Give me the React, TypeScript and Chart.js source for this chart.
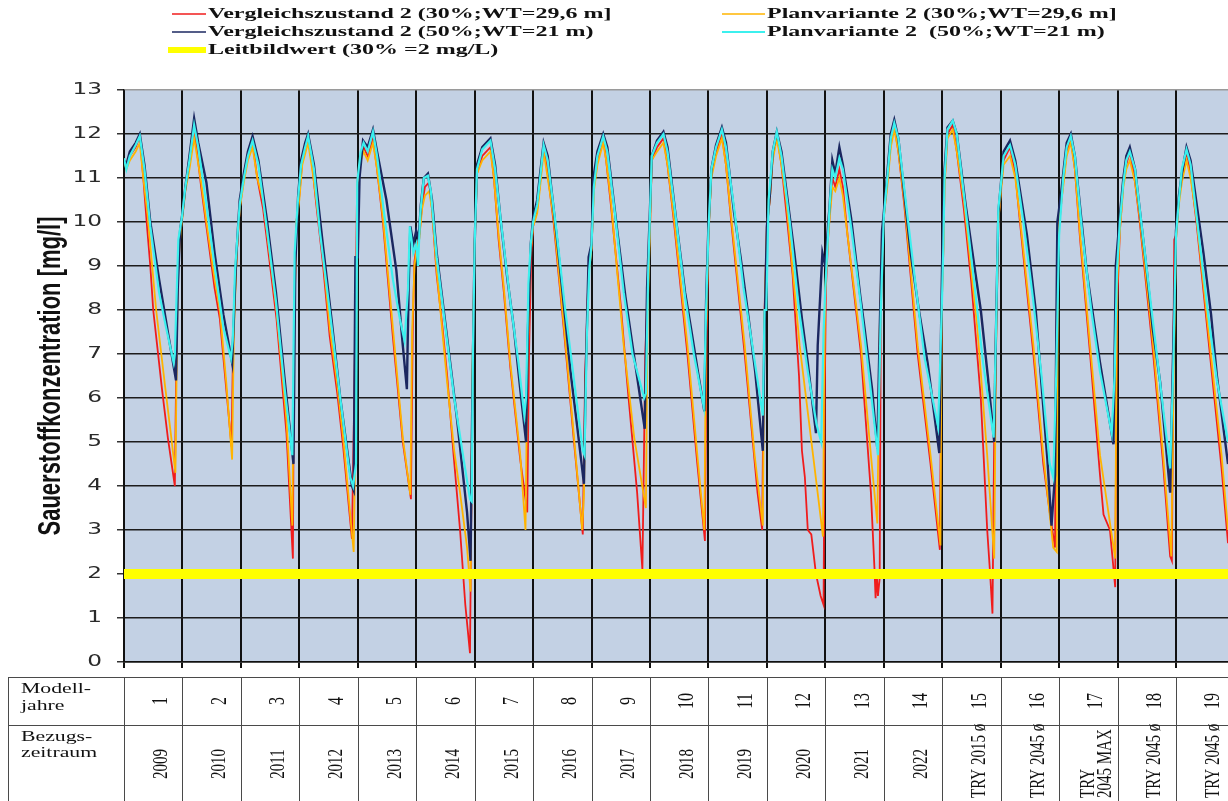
import React, { useEffect, useRef } from "react";
import { Chart, registerables } from "chart.js";

Chart.register(...registerables);

type Pt = [number, number];

// ---- data (x = model year position, y = mg/l) ----
const vergleich30: Pt[] = [
  [0, 11.4], [0.04, 11.25], [0.1, 11.5], [0.2, 11.7], [0.27, 11.95], [0.33, 11.0], [0.4, 9.8], [0.45, 9.0], [0.5, 8.0], [0.65, 6.2], [0.75, 5.1], [0.87, 4.0], [0.91, 8.5], [0.96, 9.8], [1.0, 10.2],
  [1.05, 10.8], [1.12, 11.3], [1.2, 12.1], [1.25, 11.6], [1.32, 10.8], [1.41, 9.9], [1.55, 8.5], [1.64, 7.8], [1.75, 6.2], [1.84, 4.9], [1.87, 7.5], [1.93, 9.3], [1.98, 10.3],
  [2.05, 11.0], [2.12, 11.5], [2.2, 11.8], [2.28, 11.0], [2.38, 10.3], [2.5, 9.0], [2.61, 7.8], [2.78, 5.2], [2.89, 2.35], [2.91, 7.5], [2.95, 10.0], [3.0, 10.6],
  [3.05, 11.4], [3.15, 11.9], [3.22, 11.3], [3.29, 10.4], [3.4, 9.1], [3.52, 7.4], [3.65, 6.1], [3.75, 4.9], [3.9, 2.8], [3.94, 6.0], [3.99, 10.9],
  [4.05, 11.5], [4.1, 11.7], [4.17, 11.5], [4.26, 11.9], [4.33, 11.2], [4.43, 10.0], [4.6, 7.4], [4.77, 5.0], [4.91, 3.7], [4.94, 7.5], [4.97, 9.1], [5.0, 9.4],
  [5.05, 9.6], [5.1, 10.4], [5.15, 10.8], [5.22, 10.9], [5.27, 10.3], [5.35, 8.8], [5.45, 7.6], [5.53, 6.5], [5.64, 4.7], [5.75, 3.0], [5.84, 1.3], [5.92, 0.2], [5.96, 6.0], [6.0, 9.5],
  [6.04, 11.1], [6.13, 11.5], [6.27, 11.7], [6.33, 11.0], [6.41, 9.6], [6.5, 8.4], [6.61, 6.7], [6.78, 4.6], [6.9, 3.4], [6.93, 7.0], [6.97, 9.3], [7.0, 9.9],
  [7.07, 10.3], [7.12, 10.9], [7.18, 11.7], [7.25, 11.1], [7.35, 10.0], [7.53, 7.5], [7.7, 5.0], [7.85, 2.9], [7.89, 6.5], [7.95, 8.9], [8.0, 9.4],
  [8.04, 10.8], [8.1, 11.4], [8.2, 11.9], [8.25, 11.4], [8.33, 10.4], [8.5, 8.1], [8.61, 6.35], [8.78, 3.85], [8.87, 2.1], [8.92, 7.0], [8.97, 9.0], [9.0, 9.8],
  [9.03, 11.4], [9.12, 11.7], [9.23, 11.9], [9.3, 11.3], [9.41, 10.0], [9.64, 7.0], [9.81, 4.5], [9.94, 2.75], [9.97, 7.5], [10.0, 9.7],
  [10.05, 11.1], [10.13, 11.6], [10.23, 12.0], [10.3, 11.3], [10.39, 10.0], [10.62, 7.0], [10.84, 3.85], [10.92, 3.0], [10.95, 7.5], [11.0, 9.9],
  [11.05, 10.5], [11.1, 11.5], [11.17, 12.0], [11.25, 11.3], [11.35, 10.0], [11.44, 8.8], [11.55, 6.5], [11.6, 4.8], [11.65, 4.2], [11.7, 3.0], [11.76, 2.9], [11.84, 2.0], [11.92, 1.5], [11.97, 1.3], [11.99, 6.0], [12.01, 8.5],
  [12.05, 9.7], [12.12, 11.0], [12.17, 10.8], [12.24, 11.2], [12.3, 10.8], [12.38, 9.7], [12.61, 7.0], [12.78, 3.85], [12.84, 2.15], [12.86, 1.45], [12.88, 2.0], [12.9, 1.5], [12.93, 1.9], [12.95, 8.0], [13.0, 10.1],
  [13.06, 10.9], [13.12, 11.8], [13.18, 12.2], [13.25, 11.6], [13.35, 10.4], [13.58, 7.0], [13.8, 4.5], [13.96, 2.55], [13.99, 8.0], [14.02, 9.4],
  [14.04, 10.9], [14.09, 12.0], [14.18, 12.2], [14.25, 11.6], [14.37, 10.3], [14.5, 8.6], [14.66, 6.0], [14.77, 3.0], [14.82, 2.0], [14.86, 1.1], [14.9, 6.5], [14.96, 10.0],
  [15.0, 10.7], [15.05, 11.4], [15.16, 11.7], [15.25, 11.1], [15.33, 10.0], [15.56, 7.0], [15.73, 4.5], [15.85, 3.3], [15.93, 2.6], [15.96, 8.0], [16.0, 9.9],
  [16.07, 10.9], [16.13, 11.6], [16.2, 11.9], [16.27, 11.2], [16.36, 9.6], [16.53, 7.0], [16.7, 4.25], [16.76, 3.35], [16.87, 3.0], [16.96, 1.7], [16.99, 8.0], [17.04, 9.8],
  [17.1, 10.9], [17.15, 11.3], [17.21, 11.6], [17.3, 10.9], [17.38, 10.0], [17.61, 7.0], [17.78, 4.5], [17.9, 2.4], [17.93, 2.3], [17.97, 9.6], [18.0, 9.7],
  [18.05, 10.5], [18.1, 11.0], [18.18, 11.6], [18.25, 11.1], [18.35, 10.0], [18.58, 7.0], [18.78, 4.4], [18.89, 2.7],
];

const vergleich50: Pt[] = [
  [0, 11.4], [0.04, 11.3], [0.1, 11.6], [0.2, 11.8], [0.27, 12.0], [0.35, 11.3], [0.45, 10.0], [0.6, 8.7], [0.75, 7.5], [0.89, 6.4], [0.92, 8.5], [0.96, 9.8], [1.0, 10.2],
  [1.05, 10.8], [1.12, 11.5], [1.2, 12.35], [1.27, 11.8], [1.41, 10.9], [1.55, 9.3], [1.7, 7.9], [1.85, 6.8], [1.88, 7.8], [1.92, 9.2], [1.98, 10.5],
  [2.05, 11.1], [2.12, 11.6], [2.2, 11.95], [2.3, 11.4], [2.44, 10.1], [2.6, 8.4], [2.75, 6.4], [2.9, 4.5], [2.93, 9.0], [2.98, 10.6],
  [3.03, 11.4], [3.1, 11.8], [3.15, 12.0], [3.25, 11.3], [3.41, 9.4], [3.55, 7.8], [3.7, 6.0], [3.9, 4.0], [3.93, 3.9], [3.96, 9.2], [4.0, 9.2],
  [4.03, 11.0], [4.09, 11.85], [4.17, 11.7], [4.26, 12.1], [4.33, 11.6], [4.49, 10.5], [4.66, 8.9], [4.77, 7.2], [4.84, 6.2], [4.87, 8.5], [4.9, 9.9], [4.95, 9.5], [5.0, 9.8],
  [5.04, 9.6], [5.08, 10.4], [5.13, 11.0], [5.2, 11.1], [5.27, 10.5], [5.35, 9.3], [5.47, 8.0], [5.6, 6.6], [5.7, 5.5], [5.87, 3.4], [5.93, 2.3], [5.96, 6.0], [6.0, 9.5],
  [6.04, 11.3], [6.13, 11.7], [6.27, 11.9], [6.35, 11.3], [6.44, 10.1], [6.56, 8.7], [6.67, 7.6], [6.78, 6.2], [6.88, 5.0], [6.91, 7.5], [6.96, 9.5], [7.0, 10.1],
  [7.07, 10.5], [7.12, 11.1], [7.18, 11.8], [7.25, 11.5], [7.41, 9.6], [7.55, 7.8], [7.64, 6.6], [7.75, 5.4], [7.87, 4.05], [7.9, 6.5], [7.95, 9.2], [8.0, 9.5],
  [8.03, 11.0], [8.1, 11.6], [8.2, 12.0], [8.27, 11.7], [8.44, 9.8], [8.58, 8.3], [8.7, 7.2], [8.8, 6.3], [8.91, 5.3], [8.95, 8.5], [9.0, 10.3],
  [9.03, 11.5], [9.12, 11.85], [9.23, 12.05], [9.3, 11.7], [9.47, 9.8], [9.6, 8.4], [9.7, 7.6], [9.82, 6.6], [9.93, 5.7], [9.96, 8.2], [10.0, 9.9],
  [10.05, 11.2], [10.13, 11.75], [10.23, 12.15], [10.3, 11.8], [10.44, 10.2], [10.55, 9.2], [10.67, 8.0], [10.8, 6.6], [10.93, 4.8], [10.96, 7.5], [11.0, 9.9],
  [11.05, 10.6], [11.1, 11.6], [11.17, 12.05], [11.25, 11.6], [11.47, 9.3], [11.6, 7.8], [11.7, 6.8], [11.84, 5.2], [11.87, 7.2], [11.95, 9.3], [12.0, 9.0], [12.05, 10.0],
  [12.07, 10.3], [12.12, 11.4], [12.17, 11.1], [12.24, 11.7], [12.3, 11.3], [12.44, 10.1], [12.6, 8.3], [12.67, 7.6], [12.8, 6.2], [12.89, 4.85], [12.93, 7.5], [12.97, 9.8], [13.0, 10.2],
  [13.06, 11.1], [13.12, 12.0], [13.18, 12.32], [13.25, 11.9], [13.46, 9.3], [13.6, 8.0], [13.75, 6.8], [13.95, 4.75], [13.98, 7.5], [14.0, 9.2],
  [14.03, 11.0], [14.09, 12.15], [14.18, 12.3], [14.25, 12.0], [14.4, 10.4], [14.55, 9.0], [14.66, 8.0], [14.78, 6.5], [14.89, 5.0], [14.92, 7.5], [14.96, 10.2], [15.0, 10.8],
  [15.05, 11.6], [15.16, 11.85], [15.25, 11.4], [15.45, 9.7], [15.6, 8.0], [15.67, 6.8], [15.8, 4.6], [15.87, 3.1], [15.93, 4.25], [15.97, 10.0],
  [16.03, 10.6], [16.07, 11.1], [16.13, 11.8], [16.2, 12.0], [16.27, 11.5], [16.47, 8.9], [16.6, 7.7], [16.7, 6.8], [16.93, 4.95], [16.97, 9.0], [17.0, 9.5],
  [17.05, 10.3], [17.1, 11.0], [17.15, 11.5], [17.21, 11.7], [17.3, 11.2], [17.5, 8.9], [17.6, 7.6], [17.73, 6.35], [17.9, 3.85], [17.95, 7.0], [18.0, 9.8],
  [18.05, 10.6], [18.1, 11.1], [18.18, 11.7], [18.25, 11.4], [18.47, 9.3], [18.6, 7.9], [18.7, 6.5], [18.89, 4.5],
];

const plan30: Pt[] = [
  [0, 11.4], [0.04, 11.2], [0.1, 11.4], [0.2, 11.6], [0.27, 11.8], [0.33, 11.0], [0.4, 10.2], [0.55, 8.0], [0.7, 6.3], [0.8, 5.2], [0.88, 4.3], [0.92, 8.8], [0.97, 9.8], [1.0, 10.1],
  [1.05, 10.7], [1.12, 11.2], [1.2, 11.9], [1.25, 11.5], [1.32, 10.9], [1.41, 10.0], [1.55, 8.7], [1.64, 8.0], [1.75, 6.35], [1.85, 4.6], [1.88, 7.5], [1.93, 9.3], [1.98, 10.3],
  [2.05, 10.9], [2.12, 11.4], [2.2, 11.7], [2.28, 11.0], [2.38, 10.5], [2.5, 9.2], [2.61, 8.0], [2.78, 5.5], [2.88, 3.1], [2.91, 7.5], [2.95, 10.0], [3.0, 10.5],
  [3.05, 11.3], [3.15, 11.8], [3.22, 11.2], [3.29, 10.5], [3.4, 9.3], [3.52, 7.6], [3.65, 6.3], [3.75, 5.1], [3.93, 2.5], [3.97, 6.0], [3.99, 10.8],
  [4.05, 11.4], [4.1, 11.6], [4.17, 11.4], [4.26, 11.8], [4.33, 11.2], [4.43, 10.1], [4.6, 7.6], [4.77, 5.1], [4.9, 3.8], [4.93, 7.5], [4.97, 9.0], [5.0, 9.3],
  [5.05, 9.6], [5.1, 10.3], [5.15, 10.6], [5.22, 10.7], [5.27, 10.3], [5.35, 8.9], [5.53, 6.35], [5.65, 4.8], [5.75, 3.85], [5.87, 2.6], [5.93, 1.6], [5.96, 6.5], [6.0, 9.5],
  [6.04, 11.1], [6.13, 11.4], [6.27, 11.6], [6.33, 11.0], [6.41, 9.7], [6.5, 8.5], [6.61, 6.8], [6.78, 4.7], [6.87, 3.0], [6.9, 6.5], [6.95, 9.2], [7.0, 9.9],
  [7.07, 10.2], [7.12, 10.8], [7.18, 11.6], [7.25, 11.0], [7.35, 10.1], [7.53, 7.6], [7.7, 5.1], [7.84, 3.0], [7.87, 3.8], [7.9, 6.5], [7.95, 8.8], [8.0, 9.4],
  [8.04, 10.7], [8.1, 11.3], [8.2, 11.8], [8.25, 11.4], [8.33, 10.5], [8.55, 7.2], [8.73, 5.1], [8.93, 3.5], [8.96, 8.0], [9.0, 9.8],
  [9.03, 11.4], [9.12, 11.6], [9.23, 11.8], [9.3, 11.3], [9.41, 10.1], [9.64, 7.2], [9.81, 4.7], [9.93, 3.0], [9.96, 7.5], [10.0, 9.7],
  [10.05, 11.0], [10.13, 11.5], [10.23, 11.9], [10.3, 11.3], [10.39, 10.1], [10.62, 7.2], [10.79, 4.7], [10.93, 3.1], [10.96, 7.8], [11.0, 9.9],
  [11.05, 10.5], [11.1, 11.4], [11.17, 11.9], [11.25, 11.3], [11.33, 10.5], [11.56, 7.2], [11.79, 4.7], [11.96, 2.85], [11.98, 6.5], [12.0, 8.5],
  [12.05, 9.7], [12.12, 10.8], [12.17, 10.7], [12.24, 11.0], [12.3, 10.6], [12.38, 9.7], [12.61, 7.2], [12.78, 4.7], [12.89, 3.15], [12.93, 7.5], [12.97, 9.8], [13.0, 10.1],
  [13.06, 10.8], [13.12, 11.7], [13.18, 12.1], [13.25, 11.6], [13.35, 10.5], [13.58, 7.2], [13.8, 4.7], [13.97, 2.65], [13.99, 8.0], [14.02, 9.4],
  [14.04, 10.8], [14.09, 11.9], [14.18, 12.1], [14.25, 11.6], [14.37, 10.5], [14.6, 7.6], [14.77, 4.7], [14.89, 2.35], [14.92, 7.0], [14.96, 10.0],
  [15.0, 10.6], [15.05, 11.3], [15.16, 11.5], [15.25, 11.0], [15.33, 10.1], [15.56, 7.2], [15.73, 4.7], [15.9, 2.6], [15.96, 2.5], [15.98, 9.5], [16.02, 10.3],
  [16.07, 10.8], [16.13, 11.5], [16.2, 11.8], [16.27, 11.2], [16.36, 9.7], [16.53, 7.2], [16.7, 4.7], [16.96, 2.35], [16.99, 8.5], [17.04, 9.8],
  [17.1, 10.8], [17.15, 11.2], [17.21, 11.4], [17.3, 10.9], [17.38, 10.1], [17.61, 7.2], [17.78, 4.7], [17.92, 2.4], [17.96, 6.5], [18.0, 9.6],
  [18.05, 10.4], [18.1, 10.9], [18.18, 11.4], [18.25, 11.0], [18.35, 10.1], [18.58, 7.2], [18.78, 4.7], [18.89, 3.0],
];

const plan50: Pt[] = [
  [0, 11.45], [0.04, 11.2], [0.1, 11.5], [0.2, 11.75], [0.27, 11.95], [0.35, 11.2], [0.45, 9.9], [0.6, 8.4], [0.72, 7.6], [0.85, 6.8], [0.87, 7.0], [0.93, 9.6], [0.99, 10.1],
  [1.05, 10.8], [1.12, 11.4], [1.2, 12.2], [1.27, 11.7], [1.4, 10.5], [1.55, 9.0], [1.7, 7.6], [1.83, 6.9], [1.86, 7.3], [1.9, 8.9], [1.98, 10.4],
  [2.05, 11.0], [2.12, 11.5], [2.2, 11.85], [2.3, 11.3], [2.45, 9.8], [2.6, 8.2], [2.75, 6.2], [2.88, 4.7], [2.92, 9.3], [2.97, 10.4],
  [3.03, 11.3], [3.1, 11.7], [3.15, 11.95], [3.25, 11.2], [3.35, 9.8], [3.5, 8.2], [3.7, 6.0], [3.87, 4.2], [3.92, 4.0], [3.97, 4.5], [3.99, 10.9],
  [4.05, 11.6], [4.1, 11.8], [4.17, 11.6], [4.26, 12.05], [4.33, 11.5], [4.45, 10.2], [4.6, 8.7], [4.72, 7.8], [4.8, 7.3], [4.86, 8.5], [4.89, 9.9], [4.95, 9.3], [5.0, 9.5],
  [5.03, 9.0], [5.07, 10.2], [5.13, 11.0], [5.2, 11.05], [5.25, 10.7], [5.35, 9.2], [5.5, 7.6], [5.65, 6.0], [5.8, 4.7], [5.92, 3.7], [5.95, 3.65], [5.97, 7.0], [6.0, 9.5],
  [6.04, 11.2], [6.13, 11.65], [6.27, 11.85], [6.35, 11.2], [6.45, 10.0], [6.6, 8.3], [6.75, 6.8], [6.85, 5.6], [6.88, 6.0], [6.92, 8.6], [6.96, 9.5], [7.0, 10.0],
  [7.07, 10.4], [7.12, 11.0], [7.18, 11.75], [7.25, 11.4], [7.4, 9.8], [7.55, 8.0], [7.7, 6.4], [7.85, 4.8], [7.88, 4.7], [7.92, 7.4], [7.96, 8.9], [8.0, 9.5],
  [8.04, 10.8], [8.1, 11.5], [8.2, 11.95], [8.27, 11.6], [8.4, 10.2], [8.55, 8.4], [8.7, 7.0], [8.9, 6.0], [8.93, 6.1], [8.97, 8.9], [9.0, 10.2],
  [9.03, 11.5], [9.12, 11.8], [9.23, 12.0], [9.3, 11.6], [9.45, 10.0], [9.6, 8.3], [9.75, 7.0], [9.92, 5.8], [9.96, 8.0], [10.0, 9.8],
  [10.05, 11.2], [10.13, 11.7], [10.23, 12.1], [10.3, 11.7], [10.45, 10.2], [10.6, 8.5], [10.75, 7.2], [10.93, 5.6], [10.96, 8.0], [10.99, 8.0], [11.03, 10.5],
  [11.1, 11.6], [11.17, 12.05], [11.25, 11.5], [11.4, 9.9], [11.55, 8.0], [11.7, 6.6], [11.85, 5.4], [11.93, 5.0], [11.97, 7.5], [12.0, 8.5],
  [12.05, 9.8], [12.08, 10.5], [12.12, 11.2], [12.17, 11.0], [12.24, 11.45], [12.3, 11.2], [12.45, 9.8], [12.6, 8.2], [12.75, 6.5], [12.9, 4.7], [12.95, 8.0], [13.0, 10.1],
  [13.06, 11.0], [13.12, 11.9], [13.18, 12.25], [13.25, 11.9], [13.4, 10.2], [13.55, 8.5], [13.7, 6.9], [13.93, 5.35], [13.97, 7.0], [14.0, 8.4], [14.02, 9.5],
  [14.04, 11.0], [14.09, 12.1], [14.18, 12.3], [14.25, 12.0], [14.4, 10.3], [14.55, 8.6], [14.7, 6.8], [14.88, 5.1], [14.92, 7.5], [14.96, 10.3],
  [15.0, 10.8], [15.05, 11.5], [15.16, 11.75], [15.25, 11.3], [15.4, 9.9], [15.55, 8.3], [15.7, 6.5], [15.84, 4.5], [15.9, 4.2], [15.95, 6.5], [16.0, 9.7],
  [16.07, 11.0], [16.13, 11.7], [16.2, 11.95], [16.27, 11.5], [16.4, 9.7], [16.55, 8.0], [16.7, 6.6], [16.9, 5.2], [16.95, 6.5], [16.99, 8.9], [17.04, 10.0],
  [17.1, 10.9], [17.15, 11.4], [17.21, 11.6], [17.3, 11.2], [17.45, 9.5], [17.6, 7.8], [17.75, 6.1], [17.9, 4.4], [17.95, 6.5], [18.0, 9.7],
  [18.05, 10.5], [18.1, 11.2], [18.18, 11.65], [18.25, 11.3], [18.4, 9.6], [18.55, 7.9], [18.7, 6.4], [18.89, 5.0],
];

const leitbildwert = 2;
const xMax = 18.89;
const yTickLabels = ["0", "1", "2", "3", "4", "5", "6", "7", "8", "9", "10", "11", "12", "13"];
const yTitle = "Sauerstoffkonzentration [mg/l]";
const modellJahre = ["1", "2", "3", "4", "5", "6", "7", "8", "9", "10", "11", "12", "13", "14", "15", "16", "17", "18", "19"];
const bezugszeitraum: string[][] = [
  ["2009"], ["2010"], ["2011"], ["2012"], ["2013"], ["2014"], ["2015"], ["2016"], ["2017"], ["2018"],
  ["2019"], ["2020"], ["2021"], ["2022"], ["TRY 2015 ø"], ["TRY 2045 ø"], ["TRY", "2045 MAX"], ["TRY 2045 ø"], ["TRY 2045 ø"],
];
const rowLabels: string[][] = [["Modell-", "jahre"], ["Bezugs-", "zeitraum"]];
const labels = {
  v30: "Vergleichszustand 2 (30%;WT=29,6 m]",
  v50: "Vergleichszustand 2 (50%;WT=21 m)",
  lb: "Leitbildwert (30% =2 mg/L)",
  p30: "Planvariante 2 (30%;WT=29,6 m]",
  p50: "Planvariante 2  (50%;WT=21 m)",
};

const COLORS = {
  v30: "#f01c1c",
  v50: "#1b2760",
  p30: "#ffb400",
  p50: "#3cf0ee",
  lb: "#ffff00",
};

const SX = 1.45; // horizontal stretch of the original picture's text
const SX_LEG = 1.6;

const toXY = (a: Pt[]) => a.map(([x, y]) => ({ x, y }));

const drawPlugin = {
  id: "customDraw",
  beforeDraw(chart: any) {
    const { ctx, chartArea: a } = chart;
    ctx.save();
    ctx.fillStyle = "#c3d1e4";
    ctx.fillRect(a.left, a.top, a.right - a.left, a.bottom - a.top);
    ctx.restore();
  },
  afterDraw(chart: any) {
    const ctx: CanvasRenderingContext2D = chart.ctx;
    const xs = chart.scales.x;
    const ys = chart.scales.y;
    const a = chart.chartArea;

    // y tick labels
    ctx.save();
    ctx.fillStyle = "#2a2a2a";
    ctx.font = '16px "DejaVu Sans"';
    ctx.textAlign = "right";
    ctx.textBaseline = "middle";
    yTickLabels.forEach((t) => {
      const y = ys.getPixelForValue(Number(t));
      ctx.save();
      ctx.translate(102, y);
      ctx.scale(SX, 1);
      ctx.fillText(t, 0, 0);
      ctx.restore();
    });
    ctx.restore();

    // y title
    ctx.save();
    ctx.fillStyle = "#111";
    ctx.font = 'bold 22px "Liberation Sans"';
    ctx.textAlign = "center";
    ctx.textBaseline = "middle";
    ctx.translate(51, (a.top + a.bottom) / 2);
    ctx.scale(SX, 1);
    ctx.rotate(-Math.PI / 2);
    ctx.fillText(yTitle, 0, 0);
    ctx.restore();

    // legend
    const legendItems = [
      { x: 172, y: 14, w: 34, color: COLORS.v30, lw: 1.5, text: labels.v30 },
      { x: 172, y: 32, w: 34, color: COLORS.v50, lw: 1.5, text: labels.v50 },
      { x: 168, y: 50, w: 38, color: COLORS.lb, lw: 6, text: labels.lb },
      { x: 722, y: 14, w: 43, color: COLORS.p30, lw: 1.5, text: labels.p30 },
      { x: 722, y: 32, w: 43, color: COLORS.p50, lw: 2, text: labels.p50 },
    ];
    ctx.save();
    legendItems.forEach((it) => {
      ctx.strokeStyle = it.color;
      ctx.lineWidth = it.lw;
      ctx.beginPath();
      ctx.moveTo(it.x, it.y);
      ctx.lineTo(it.x + it.w, it.y);
      ctx.stroke();
      ctx.save();
      ctx.fillStyle = "#111";
      ctx.font = 'bold 15px "Liberation Serif"';
      ctx.textAlign = "left";
      ctx.textBaseline = "middle";
      ctx.translate(it.x + it.w + 2, it.y);
      ctx.scale(SX_LEG, 1);
      ctx.fillText(it.text, 0, 0);
      ctx.restore();
    });
    ctx.restore();

    // table
    const top = 677;
    const mid = 725;
    const bot = 801;
    ctx.save();
    ctx.strokeStyle = "#4a4a4a";
    ctx.lineWidth = 1;
    ctx.beginPath();
    ctx.moveTo(8, top + 0.5);
    ctx.lineTo(1228, top + 0.5);
    ctx.moveTo(8, mid + 0.5);
    ctx.lineTo(1228, mid + 0.5);
    ctx.moveTo(8.5, top);
    ctx.lineTo(8.5, bot);
    for (let k = 0; k < modellJahre.length; k++) {
      const px = Math.round(xs.getPixelForValue(k)) + 0.5;
      ctx.moveTo(px, top);
      ctx.lineTo(px, bot);
    }
    ctx.stroke();

    ctx.fillStyle = "#111";
    ctx.font = '15px "Liberation Serif"';
    ctx.textAlign = "left";
    ctx.textBaseline = "alphabetic";
    const rowBase = [[693, 710], [741, 757]];
    rowLabels.forEach((lines, r) => {
      lines.forEach((ln, i) => {
        ctx.save();
        ctx.translate(21, rowBase[r][i]);
        ctx.scale(SX, 1);
        ctx.fillText(ln, 0, 0);
        ctx.restore();
      });
    });

    ctx.textBaseline = "middle";
    for (let k = 0; k < modellJahre.length; k++) {
      const cx = (xs.getPixelForValue(k) + xs.getPixelForValue(k + 1)) / 2 + 8;
      ctx.font = '16px "Liberation Serif"';
      ctx.textAlign = "center";
      ctx.save();
      ctx.translate(cx, 701);
      ctx.scale(SX, 1);
      ctx.rotate(-Math.PI / 2);
      ctx.fillText(modellJahre[k], 0, 0);
      ctx.restore();

      const lines = bezugszeitraum[k];
      const anchored = lines[0].startsWith("TRY");
      ctx.font = '15px "Liberation Serif"';
      ctx.textAlign = anchored ? "left" : "center";
      lines.forEach((ln, i) => {
        const off = (i - (lines.length - 1) / 2) * 17;
        ctx.save();
        ctx.translate(cx + off, anchored ? 798 : 764);
        ctx.scale(SX, 1);
        ctx.rotate(-Math.PI / 2);
        ctx.fillText(ln, 0, 0);
        ctx.restore();
      });
    }
    ctx.restore();
  },
};

export default function App() {
  const ref = useRef<HTMLCanvasElement | null>(null);

  useEffect(() => {
    if (!ref.current) return;
    const lineDs = (label: string, data: Pt[], color: string, width: number, order: number) => ({
      label,
      data: toXY(data),
      borderColor: color,
      backgroundColor: color,
      borderWidth: width,
      pointRadius: 0,
      tension: 0,
      fill: false,
      order,
    });
    const chart = new Chart(ref.current, {
      type: "line",
      data: {
        datasets: [
          {
            label: labels.lb,
            data: [{ x: 0, y: leitbildwert }, { x: xMax, y: leitbildwert }],
            borderColor: COLORS.lb,
            backgroundColor: COLORS.lb,
            borderWidth: 10,
            pointRadius: 0,
            fill: false,
            order: 0,
            borderCapStyle: "butt",
          } as any,
          lineDs(labels.p50, plan50, COLORS.p50, 2.2, 1),
          lineDs(labels.v50, vergleich50, COLORS.v50, 2.4, 2),
          lineDs(labels.p30, plan30, COLORS.p30, 1.8, 3),
          lineDs(labels.v30, vergleich30, COLORS.v30, 1.8, 4),
        ],
      },
      options: {
        responsive: false,
        maintainAspectRatio: false,
        animation: false,
        layout: { padding: { top: 90, right: 0, bottom: 0, left: 0 } },
        plugins: {
          legend: { display: false },
          tooltip: { enabled: false },
          title: { display: false },
        },
        scales: {
          x: {
            type: "linear",
            min: 0,
            max: xMax,
            afterFit: (axis: any) => {
              axis.height = 139;
            },
            ticks: { display: false, stepSize: 1, includeBounds: false },
            grid: { color: "#111", lineWidth: 2, drawTicks: true, tickLength: 6, tickColor: "#111" },
            border: { display: true, color: "#111", width: 1.5 },
          },
          y: {
            type: "linear",
            min: 0,
            max: 13,
            afterFit: (axis: any) => {
              axis.width = 124;
            },
            ticks: { display: false, stepSize: 1 },
            grid: {
              color: (c: any) => (c.tick && c.tick.value === 13 ? "#9a9a9a" : "#1c1c1c"),
              lineWidth: 1.5,
              drawTicks: true,
              tickLength: 7,
              tickColor: "#333",
            },
            border: { display: true, color: "#111", width: 1.5 },
          },
        },
      } as any,
      plugins: [drawPlugin],
    });
    return () => chart.destroy();
  }, []);

  return (
    <div style={{ position: "absolute", left: 0, top: 0, width: 1228, height: 801, background: "#fff", overflow: "hidden" }}>
      <canvas ref={ref} width={1228} height={801} style={{ display: "block", width: 1228, height: 801 }} />
    </div>
  );
}
